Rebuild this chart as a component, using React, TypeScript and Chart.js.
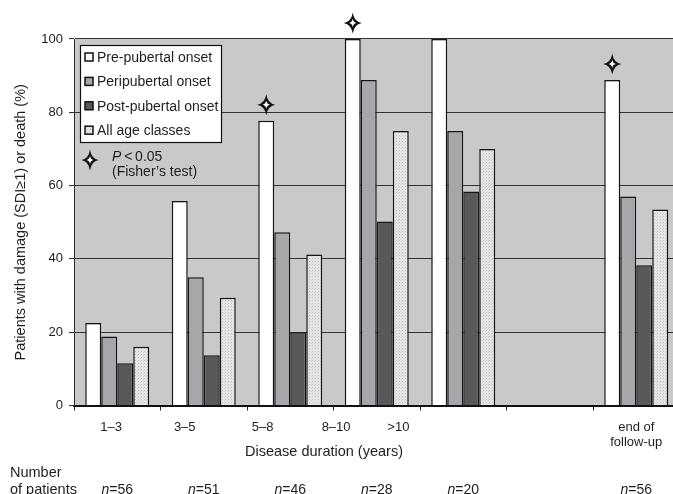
import React, { useEffect, useRef } from 'react';
import { Chart, registerables } from 'chart.js';

Chart.register(...registerables);

// ---- data ----
const categories = ['1–3', '3–5', '5–8', '8–10', '>10', '', 'end of follow-up'];
const prePubertal = [22.5, 55.8, 77.7, 100, 100, null, 88.8];
const periPubertal = [18.8, 35.0, 47.3, 88.8, 74.9, null, 57.0];
const postPubertal = [11.5, 13.7, 20.0, 50.2, 58.4, null, 38.3];
const allAgeClasses = [16.0, 29.4, 41.2, 74.9, 70.0, null, 53.5];
const significant = [false, false, true, true, false, false, true];
const patientCounts = ['56', '51', '46', '28', '20', '', '56'];
const axisLabels = [['1–3'], ['3–5'], ['5–8'], ['8–10'], ['>10'], ['end of', 'follow-up']];
const axisLabelPositions = [-0.07, 0.78, 1.68, 2.53, 3.25, 6.0];
const xTitle = 'Disease duration (years)';
const xTitlePosition = 2.39;
const seriesNames = ['Pre-pubertal onset', 'Peripubertal onset', 'Post-pubertal onset', 'All age classes'];

const FONT = "'Liberation Sans', Arial, Helvetica, sans-serif";
const TEXT = '#1e1e1e';

function drawStar(ctx: CanvasRenderingContext2D, cx: number, cy: number, rx: number, ry: number) {
  const shape = (sx: number, sy: number, color: string) => {
    const k = 0.14;
    ctx.beginPath();
    ctx.moveTo(cx, cy - sy);
    ctx.quadraticCurveTo(cx + sx * k, cy - sy * k, cx + sx, cy);
    ctx.quadraticCurveTo(cx + sx * k, cy + sy * k, cx, cy + sy);
    ctx.quadraticCurveTo(cx - sx * k, cy + sy * k, cx - sx, cy);
    ctx.quadraticCurveTo(cx - sx * k, cy - sy * k, cx, cy - sy);
    ctx.closePath();
    ctx.fillStyle = color;
    ctx.fill();
  };
  ctx.save();
  shape(rx, ry, '#111');
  shape(rx * 0.42, ry * 0.4, '#fff');
  ctx.restore();
}

function makeDotPattern(ctx: CanvasRenderingContext2D) {
  const c = document.createElement('canvas');
  c.width = 3;
  c.height = 3;
  const g = c.getContext('2d')!;
  g.fillStyle = '#e6e6e6';
  g.fillRect(0, 0, 3, 3);
  g.fillStyle = '#bcbcbc';
  g.fillRect(0, 0, 1, 1);
  g.fillStyle = '#d2d2d2';
  g.fillRect(2, 1, 1, 1);
  return ctx.createPattern(c, 'repeat')!;
}

const backgroundPlugin = {
  id: 'plotBackground',
  beforeDraw(chart: any) {
    const { ctx, chartArea } = chart;
    ctx.save();
    ctx.fillStyle = '#c8c9cb';
    ctx.fillRect(chartArea.left, chartArea.top, chartArea.right - chartArea.left, chartArea.bottom - chartArea.top);
    ctx.restore();
  },
};

const annotationPlugin = {
  id: 'annotations',
  afterDraw(chart: any) {
    const { ctx } = chart;
    // significance stars above the pre-pubertal bars
    const meta = chart.getDatasetMeta(0);
    significant.forEach((s, i) => {
      if (!s) return;
      const bar = meta.data[i];
      drawStar(ctx, bar.x, bar.y - 16, 9, 10.5);
    });

    ctx.save();
    // x axis title
    ctx.font = `14.5px ${FONT}`;
    ctx.fillStyle = TEXT;
    ctx.textAlign = 'center';
    ctx.textBaseline = 'middle';
    ctx.fillText(xTitle, chart.scales.xl.getPixelForValue(xTitlePosition), 452);

    // legend box
    ctx.fillStyle = '#fff';
    ctx.strokeStyle = '#111';
    ctx.lineWidth = 1.2;
    ctx.fillRect(80.5, 45.5, 141, 97);
    ctx.strokeRect(80.5, 45.5, 141, 97);
    ctx.font = `14px ${FONT}`;
    ctx.textBaseline = 'middle';
    ctx.textAlign = 'left';
    chart.data.datasets.forEach((ds: any, i: number) => {
      const y = 57 + i * 24.4;
      ctx.fillStyle = ds.backgroundColor;
      ctx.fillRect(85, y - 4, 8, 8);
      ctx.lineWidth = 1.5;
      ctx.strokeStyle = '#111';
      ctx.strokeRect(85, y - 4, 8, 8);
      ctx.fillStyle = TEXT;
      ctx.fillText(ds.label, 97, y + 1);
    });

    // legend star + P value note
    drawStar(ctx, 90, 160, 8.5, 10.5);
    ctx.font = `italic 14px ${FONT}`;
    ctx.fillStyle = TEXT;
    ctx.fillText('P', 112, 157);
    const pw = ctx.measureText('P').width;
    ctx.font = `14px ${FONT}`;
    ctx.fillText('\u2009<\u20090.05', 112 + pw, 157);
    ctx.fillText('(Fisher’s test)', 112, 172);

    // number of patients row
    ctx.font = `14.5px ${FONT}`;
    ctx.fillText('Number', 10, 473);
    ctx.fillText('of patients', 10, 490);
    const xScale = chart.scales.x;
    patientCounts.forEach((n, i) => {
      if (!n) return;
      const cx = xScale.getPixelForValue(i);
      ctx.font = `italic 14px ${FONT}`;
      const w1 = ctx.measureText('n').width;
      ctx.font = `14px ${FONT}`;
      const rest = '=' + n;
      const w2 = ctx.measureText(rest).width;
      const start = cx - (w1 + w2) / 2;
      ctx.font = `italic 14px ${FONT}`;
      ctx.fillText('n', start, 490);
      ctx.font = `14px ${FONT}`;
      ctx.fillText(rest, start + w1, 490);
    });
    ctx.restore();
  },
};

export default function App() {
  const canvasRef = useRef<HTMLCanvasElement | null>(null);

  useEffect(() => {
    const canvas = canvasRef.current!;
    const ctx = canvas.getContext('2d')!;
    const dots = makeDotPattern(ctx);
    const fills = ['#ffffff', '#a6a7aa', '#58595b', dots];
    const series = [prePubertal, periPubertal, postPubertal, allAgeClasses];

    const chart = new Chart(ctx, {
      type: 'bar',
      data: {
        labels: categories,
        datasets: series.map((d, i) => ({
          label: seriesNames[i],
          data: d,
          backgroundColor: fills[i] as any,
          borderColor: '#161616',
          borderWidth: 1.5,
          borderSkipped: 'bottom',
          categoryPercentage: 0.74,
          barPercentage: 1.0,
          xAxisID: 'x',
          yAxisID: 'y',
        })),
      },
      options: {
        responsive: false,
        animation: false,
        events: [],
        layout: { padding: { top: 39, left: 0, right: 10.5, bottom: 34.5 } },
        plugins: {
          legend: { display: false },
          tooltip: { enabled: false },
        },
        scales: {
          x: {
            type: 'category',
            position: 'bottom',
            weight: 0,
            offset: true,
            grid: {
              offset: true,
              drawOnChartArea: false,
              drawTicks: true,
              tickLength: 5,
              color: '#222',
              lineWidth: 1,
            },
            border: { display: true, color: '#111', width: 2 },
            ticks: { display: false },
            afterFit: (s: any) => {
              s.height = 5;
            },
          },
          xl: {
            type: 'linear',
            position: 'bottom',
            weight: 1,
            min: -0.5,
            max: 6.5,
            offset: false,
            bounds: 'data',
            grid: { display: false, drawTicks: false, offset: false },
            border: { display: false },
            afterBuildTicks: (s: any) => {
              s.ticks = axisLabelPositions.map((v) => ({ value: v }));
            },
            ticks: {
              autoSkip: false,
              maxRotation: 0,
              minRotation: 0,
              padding: 9,
              color: TEXT,
              font: { family: FONT, size: 13, lineHeight: 1.15 },
              callback: (_v: any, i: number) => axisLabels[i],
            },
            title: { display: false },
            afterFit: (s: any) => {
              s.height = 49;
            },
          },
          y: {
            type: 'linear',
            min: 0,
            max: 100,
            ticks: {
              stepSize: 20,
              padding: 6,
              color: TEXT,
              font: { family: FONT, size: 13 },
            },
            grid: {
              color: '#333',
              lineWidth: 1.1,
              tickLength: 5,
              drawTicks: true,
            },
            border: { display: true, color: '#2a2a2a', width: 1 },
            title: {
              display: true,
              text: 'Patients with damage (SDI≥1) or death (%)',
              color: TEXT,
              font: { family: FONT, size: 14.5 },
              padding: { top: 12, bottom: 0 },
            },
            afterFit: (s: any) => {
              s.width = 74;
            },
          },
        },
      },
      plugins: [backgroundPlugin, annotationPlugin],
    });

    return () => chart.destroy();
  }, []);

  return (
    <div
      style={{
        position: 'fixed',
        left: 0,
        top: 0,
        width: 673,
        height: 494,
        overflow: 'hidden',
        background: '#fff',
      }}
    >
      <canvas ref={canvasRef} width={690} height={494} style={{ width: 690, height: 494, display: 'block' }} />
    </div>
  );
}
